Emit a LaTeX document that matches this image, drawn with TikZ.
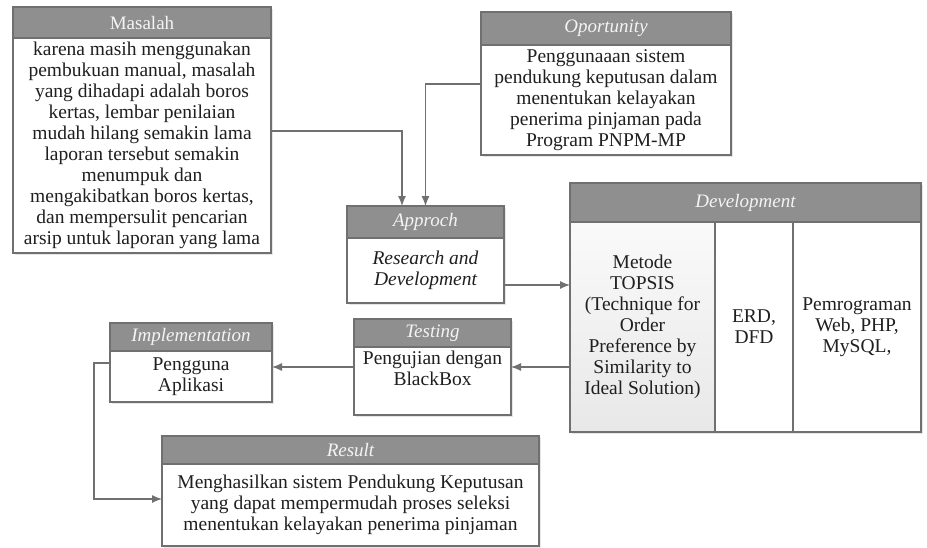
\documentclass[tikz,border=0pt]{standalone}
\usepackage{fontspec}
\setmainfont{Liberation Serif}
\usetikzlibrary{positioning,arrows.meta,shadows}

\definecolor{framegray}{HTML}{707070}
\definecolor{headgray}{HTML}{8F8F8F}
\definecolor{headtext}{HTML}{F4F4F4}

\tikzset{
	box/.style={draw=framegray, line width=1.2pt, outer sep=0pt, inner sep=2pt, align=center,
		font=\fontsize{19.5}{21}\selectfont,
		drop shadow={shadow xshift=1.5pt, shadow yshift=-1.5pt, opacity=0.2}},
	head/.style={box, fill=headgray, text=headtext, font=\fontsize{19}{21}\selectfont\itshape},
	body/.style={box, fill=white, text=black!88},
	flow/.style={draw=framegray, line width=1.2pt, -{Latex[length=10pt,width=8pt]}}
}

\begin{document}
\begin{tikzpicture}[x=1pt, y=-1pt]
	\useasboundingbox (0,0) rectangle (927,547);

	%% Masalah
	\node[head, font=\fontsize{19}{21}\selectfont, minimum width=258pt, minimum height=31pt] (masalahH) at (142,22.5) {Masalah};
	\node[body, below=0pt of masalahH, minimum width=258pt, minimum height=215pt] (masalah)
		{karena masih menggunakan\\pembukuan manual, masalah\\yang dihadapi adalah boros\\kertas, lembar penilaian\\mudah hilang semakin lama\\laporan tersebut semakin\\menumpuk dan\\mengakibatkan boros kertas,\\dan mempersulit pencarian\\arsip untuk laporan yang lama};

	%% Opportunity
	\node[head, minimum width=250pt, minimum height=33pt] (oppH) at (606,28.5) {Oportunity};
	\node[body, below=0pt of oppH, minimum width=250pt, minimum height=110pt] (opp)
		{Penggunaaan sistem\\pendukung keputusan dalam\\menentukan kelayakan\\penerima pinjaman pada\\Program PNPM-MP};

	%% Approch
	\node[head, minimum width=157pt, minimum height=32pt] (appH) at (425.5,222) {Approch};
	\node[body, below=0pt of appH, minimum width=157pt, minimum height=65pt, font=\fontsize{19.5}{21}\selectfont\itshape] (app)
		{Research and\\Development};

	%% Development
	\node[head, minimum width=351pt, minimum height=39pt] (devH) at (745.5,202.5) {Development};
	\node[body, anchor=north west, minimum width=145pt, minimum height=210pt, top color=black!2, bottom color=black!9] (topsis) at (devH.south west)
		{Metode\\TOPSIS\\(Technique for\\Order\\Preference by\\Similarity to\\Ideal Solution)};
	\node[body, right=0pt of topsis, minimum width=78pt, minimum height=210pt] (erd) {ERD,\\DFD};
	\node[body, right=0pt of erd, minimum width=128pt, minimum height=210pt] (web) {Pemrograman\\Web, PHP,\\MySQL,};

	%% Testing
	\node[head, minimum width=157pt, minimum height=28pt] (testH) at (432.5,333) {Testing};
	\node[body, below=0pt of testH, minimum width=157pt, minimum height=68pt, text depth=25pt] (test)
		{Pengujian dengan\\BlackBox};

	%% Implementation
	\node[head, minimum width=162pt, minimum height=28pt] (implH) at (191,337) {Implementation};
	\node[body, below=0pt of implH, minimum width=162pt, minimum height=51pt] (impl)
		{Pengguna\\Aplikasi};

	%% Result
	\node[head, minimum width=377pt, minimum height=28pt] (resH) at (350.5,450) {Result};
	\node[body, below=0pt of resH, minimum width=377pt, minimum height=82pt] (res)
		{Menghasilkan sistem Pendukung Keputusan\\yang dapat mempermudah proses seleksi\\menentukan kelayakan penerima pinjaman};

	%% Alur
	\draw[flow] ([yshift=14.5pt]masalah.east) -| ([xshift=-23.5pt]appH.north);
	\draw[flow] ([yshift=16pt]opp.west) -| (appH.north);
	\coordinate (toDev) at ([yshift=-14.5pt]app.east);
	\draw[flow] (toDev) -- (toDev -| topsis.west);
	\coordinate (toTest) at ([yshift=14pt]test.east);
	\draw[flow] (toTest -| topsis.west) -- (toTest);
	\draw[flow] (test.west |- toTest) -- (impl.east |- toTest);
	\draw[flow] ([yshift=13.5pt]impl.west) -- ++(-16pt,0) |- ([yshift=6pt]res.west);
\end{tikzpicture}
\end{document}
